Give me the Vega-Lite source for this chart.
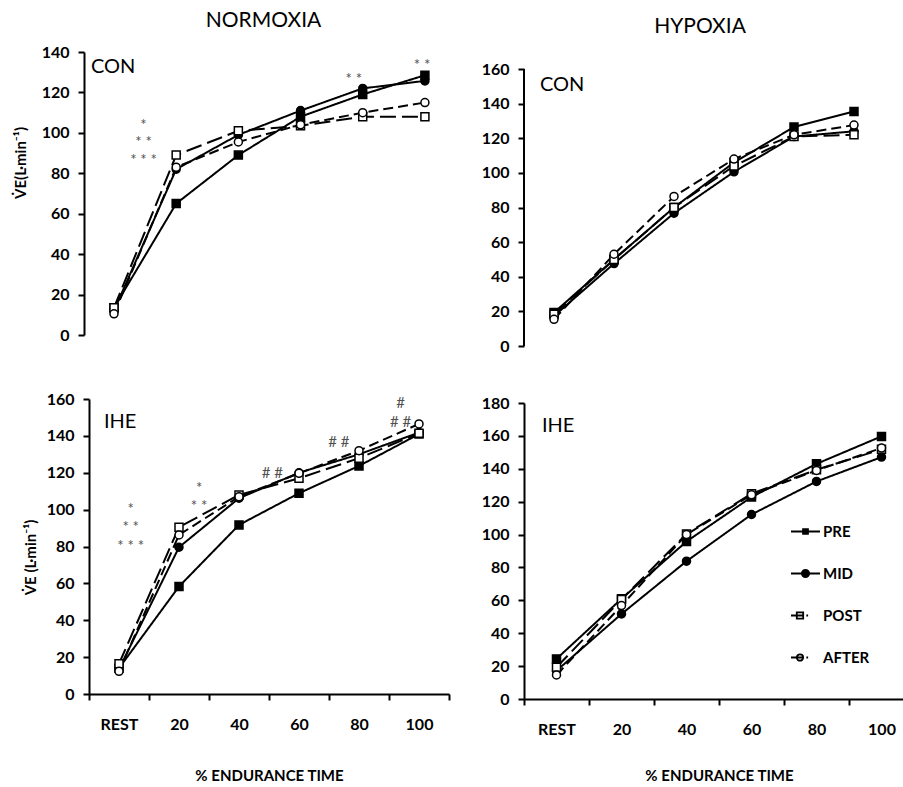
{
  "$schema": "https://vega.github.io/schema/vega-lite/v6.json",
  "padding": {"left": 14, "top": 10, "right": 0, "bottom": 0},
  "background": "white",
  "config": {
    "view": {"stroke": null},
    "font": "Lato",
    "axis": {"domainColor": "black", "domainWidth": 2, "tickColor": "black", "tickWidth": 2, "tickSize": 6, "labelFont": "Lato", "labelFontWeight": "bold", "labelFontSize": 16, "labelColor": "black", "labelPadding": 9, "grid": false, "titleFont": "Lato", "titleFontWeight": "bold", "titleFontSize": 15, "titleColor": "black"},
    "title": {"font": "Lato", "fontSize": 21, "fontWeight": "normal", "color": "black", "anchor": "middle", "frame": "group"}
  },
  "datasets": {
    "tl": [
      {"g": "PRE", "t": 0, "v": 13.5}, {"g": "PRE", "t": 20, "v": 65}, {"g": "PRE", "t": 40, "v": 89}, {"g": "PRE", "t": 60, "v": 108}, {"g": "PRE", "t": 80, "v": 119}, {"g": "PRE", "t": 100, "v": 128.5},
      {"g": "MID", "t": 0, "v": 12}, {"g": "MID", "t": 20, "v": 82}, {"g": "MID", "t": 40, "v": 99}, {"g": "MID", "t": 60, "v": 111}, {"g": "MID", "t": 80, "v": 122}, {"g": "MID", "t": 100, "v": 125.7},
      {"g": "POST", "t": 0, "v": 13.5}, {"g": "POST", "t": 20, "v": 89}, {"g": "POST", "t": 40, "v": 101}, {"g": "POST", "t": 60, "v": 103.5}, {"g": "POST", "t": 80, "v": 108}, {"g": "POST", "t": 100, "v": 108},
      {"g": "AFTER", "t": 0, "v": 10.5}, {"g": "AFTER", "t": 20, "v": 83}, {"g": "AFTER", "t": 40, "v": 95.5}, {"g": "AFTER", "t": 60, "v": 104}, {"g": "AFTER", "t": 80, "v": 110}, {"g": "AFTER", "t": 100, "v": 115}
    ],
    "tr": [
      {"g": "PRE", "t": 0, "v": 19.3}, {"g": "PRE", "t": 20, "v": 50}, {"g": "PRE", "t": 40, "v": 80}, {"g": "PRE", "t": 60, "v": 106}, {"g": "PRE", "t": 80, "v": 126.5}, {"g": "PRE", "t": 100, "v": 135.5},
      {"g": "MID", "t": 0, "v": 17.3}, {"g": "MID", "t": 20, "v": 47.6}, {"g": "MID", "t": 40, "v": 76.7}, {"g": "MID", "t": 60, "v": 100.6}, {"g": "MID", "t": 80, "v": 121}, {"g": "MID", "t": 100, "v": 124},
      {"g": "POST", "t": 0, "v": 18.3}, {"g": "POST", "t": 20, "v": 50}, {"g": "POST", "t": 40, "v": 80}, {"g": "POST", "t": 60, "v": 104}, {"g": "POST", "t": 80, "v": 121}, {"g": "POST", "t": 100, "v": 122},
      {"g": "AFTER", "t": 0, "v": 15.4}, {"g": "AFTER", "t": 20, "v": 53}, {"g": "AFTER", "t": 40, "v": 86.4}, {"g": "AFTER", "t": 60, "v": 108}, {"g": "AFTER", "t": 80, "v": 122}, {"g": "AFTER", "t": 100, "v": 127.6}
    ],
    "bl": [
      {"g": "PRE", "t": 0, "v": 14}, {"g": "PRE", "t": 20, "v": 58.3}, {"g": "PRE", "t": 40, "v": 91.7}, {"g": "PRE", "t": 60, "v": 108.9}, {"g": "PRE", "t": 80, "v": 123.7}, {"g": "PRE", "t": 100, "v": 141},
      {"g": "MID", "t": 0, "v": 13.5}, {"g": "MID", "t": 20, "v": 79.6}, {"g": "MID", "t": 40, "v": 106.2}, {"g": "MID", "t": 60, "v": 120}, {"g": "MID", "t": 80, "v": 130}, {"g": "MID", "t": 100, "v": 141.8},
      {"g": "POST", "t": 0, "v": 16.4}, {"g": "POST", "t": 20, "v": 90.5}, {"g": "POST", "t": 40, "v": 108}, {"g": "POST", "t": 60, "v": 117}, {"g": "POST", "t": 80, "v": 127.9}, {"g": "POST", "t": 100, "v": 141.4},
      {"g": "AFTER", "t": 0, "v": 12.3}, {"g": "AFTER", "t": 20, "v": 86.3}, {"g": "AFTER", "t": 40, "v": 107}, {"g": "AFTER", "t": 60, "v": 119.7}, {"g": "AFTER", "t": 80, "v": 132}, {"g": "AFTER", "t": 100, "v": 146.5}
    ],
    "br": [
      {"g": "PRE", "t": 0, "v": 24.4}, {"g": "PRE", "t": 20, "v": 60.9}, {"g": "PRE", "t": 40, "v": 95.8}, {"g": "PRE", "t": 60, "v": 122.8}, {"g": "PRE", "t": 80, "v": 143}, {"g": "PRE", "t": 100, "v": 159.7},
      {"g": "MID", "t": 0, "v": 17.2}, {"g": "MID", "t": 20, "v": 51.7}, {"g": "MID", "t": 40, "v": 83.8}, {"g": "MID", "t": 60, "v": 112.2}, {"g": "MID", "t": 80, "v": 132.3}, {"g": "MID", "t": 100, "v": 147.1},
      {"g": "POST", "t": 0, "v": 19.3}, {"g": "POST", "t": 20, "v": 60.5}, {"g": "POST", "t": 40, "v": 100.4}, {"g": "POST", "t": 60, "v": 124.8}, {"g": "POST", "t": 80, "v": 139.4}, {"g": "POST", "t": 100, "v": 151.8},
      {"g": "AFTER", "t": 0, "v": 14.6}, {"g": "AFTER", "t": 20, "v": 56.8}, {"g": "AFTER", "t": 40, "v": 100}, {"g": "AFTER", "t": 60, "v": 124.2}, {"g": "AFTER", "t": 80, "v": 139}, {"g": "AFTER", "t": 100, "v": 152.6}
    ],
    "tl_ann": [
      {"t": 9.5, "v": 103.9, "s": "*"}, {"t": 9.5, "v": 95.5, "s": "* *"}, {"t": 9.5, "v": 86.6, "s": "* * *"},
      {"t": 77.1, "v": 126.6, "s": "* *"}, {"t": 99.1, "v": 133.7, "s": "* *"}
    ],
    "bl_ann": [
      {"t": 3.9, "v": 100.5, "s": "*"}, {"t": 3.9, "v": 90.6, "s": "* *"}, {"t": 3.9, "v": 80.1, "s": "* * *"},
      {"t": 26.7, "v": 111.9, "s": "*"}, {"t": 26.7, "v": 102, "s": "* *"},
      {"t": 51.1, "v": 119.7, "s": "# #"}, {"t": 73.3, "v": 136.8, "s": "# #"},
      {"t": 93.9, "v": 157.6, "s": "#"}, {"t": 93.9, "v": 147.7, "s": "# #"}
    ]
  },
  "spacing": 2,
  "hconcat": [
    {
      "spacing": 48,
      "vconcat": [
        {
          "width": 367, "height": 283,
          "title": {"text": "NORMOXIA", "offset": 13, "dx": -9},
          "encoding": {
            "x": {"field": "t", "type": "quantitative", "scale": {"domain": [-8.04, 110], "nice": false, "zero": false}, "axis": null},
            "y": {"field": "v", "type": "quantitative", "scale": {"domain": [0, 140], "nice": false}, "axis": {"offset": 5, "values": [0, 20, 40, 60, 80, 100, 120, 140], "title": null}}
          },
          "layer": [
            {"data": {"name": "tl"}, "mark": {"type": "line", "stroke": "black", "strokeWidth": 2},
             "encoding": {"strokeDash": {"field": "g", "type": "nominal", "scale": {"domain": ["PRE", "MID", "POST", "AFTER"], "range": [[1, 0], [1, 0], [16, 6], [10, 5]]}, "legend": null}}},
            {"data": {"name": "tl"}, "mark": {"type": "point", "filled": true, "stroke": "black", "strokeWidth": 1.5, "size": 64, "opacity": 1},
             "encoding": {
               "shape": {"field": "g", "type": "nominal", "scale": {"domain": ["PRE", "MID", "POST", "AFTER"], "range": ["square", "circle", "square", "circle"]}, "legend": null},
               "fill": {"field": "g", "type": "nominal", "scale": {"domain": ["PRE", "MID", "POST", "AFTER"], "range": ["black", "black", "white", "white"]}, "legend": null}}},
            {"data": {"name": "tl_ann"}, "mark": {"type": "text", "font": "Lato", "fontSize": 15, "color": "#505050", "baseline": "middle"},
             "encoding": {"text": {"field": "s"}}},
            {"data": {"values": [{"t": -7.4, "v": 129.6, "s": "CON"}]}, "mark": {"type": "text", "font": "Lato", "fontSize": 20, "color": "black", "align": "left", "baseline": "alphabetic"},
             "encoding": {"text": {"field": "s"}}},
            {"data": {"values": [{"t": -29.9, "v": 85.1, "s": "V̇E(L·min⁻¹)"}]}, "mark": {"type": "text", "font": "Lato", "fontSize": 15, "fontWeight": "bold", "color": "black", "angle": 270, "align": "center", "baseline": "middle"},
             "encoding": {"text": {"field": "s"}}}
          ]
        },
        {
          "width": 360, "height": 295,
          "encoding": {
            "x": {"field": "t", "type": "quantitative", "scale": {"domain": [-10, 110], "nice": false, "zero": false},
                  "axis": {"values": [-10, 10, 30, 50, 70, 90, 110], "labelExpr": "datum.value < 0 ? 'REST' : datum.value > 100 ? '' : toString(datum.value + 10)", "labelOffset": 30, "labelFlush": false, "labelOverlap": false, "labelPadding": 16, "title": "% ENDURANCE TIME", "titlePadding": 36}},
            "y": {"field": "v", "type": "quantitative", "scale": {"domain": [0, 160], "nice": false}, "axis": {"values": [0, 20, 40, 60, 80, 100, 120, 140, 160], "title": "V̇E (L·min⁻¹)", "titlePadding": 8, "titleAlign": "center", "titleY": 158}}
          },
          "layer": [
            {"data": {"name": "bl"}, "mark": {"type": "line", "stroke": "black", "strokeWidth": 2},
             "encoding": {"strokeDash": {"field": "g", "type": "nominal", "scale": {"domain": ["PRE", "MID", "POST", "AFTER"], "range": [[1, 0], [1, 0], [16, 6], [10, 5]]}, "legend": null}}},
            {"data": {"name": "bl"}, "mark": {"type": "point", "filled": true, "stroke": "black", "strokeWidth": 1.5, "size": 64, "opacity": 1},
             "encoding": {
               "shape": {"field": "g", "type": "nominal", "scale": {"domain": ["PRE", "MID", "POST", "AFTER"], "range": ["square", "circle", "square", "circle"]}, "legend": null},
               "fill": {"field": "g", "type": "nominal", "scale": {"domain": ["PRE", "MID", "POST", "AFTER"], "range": ["black", "black", "white", "white"]}, "legend": null}}},
            {"data": {"name": "bl_ann"}, "mark": {"type": "text", "font": "Lato", "fontSize": 15, "color": "#505050", "baseline": "middle"},
             "encoding": {"text": {"field": "s"}}},
            {"data": {"values": [{"t": -5, "v": 144.3, "s": "IHE"}]}, "mark": {"type": "text", "font": "Lato", "fontSize": 20, "color": "black", "align": "left", "baseline": "alphabetic"},
             "encoding": {"text": {"field": "s"}}}
          ]
        }
      ]
    },
    {
      "spacing": 41,
      "vconcat": [
        {
          "width": 360, "height": 294,
          "title": {"text": "HYPOXIA", "offset": 15, "dx": -4},
          "encoding": {
            "x": {"field": "t", "type": "quantitative", "scale": {"domain": [-10, 110], "nice": false, "zero": false}, "axis": null},
            "y": {"field": "v", "type": "quantitative", "scale": {"domain": [0, 169.82], "nice": false}, "axis": {"values": [0, 20, 40, 60, 80, 100, 120, 140, 160], "title": null, "domain": false}}
          },
          "layer": [
            {"data": {"values": [{"t": -10, "v": 0, "v2": 160}]}, "mark": {"type": "rule", "stroke": "black", "strokeWidth": 2},
             "encoding": {"y2": {"field": "v2"}}},
            {"data": {"name": "tr"}, "mark": {"type": "line", "stroke": "black", "strokeWidth": 2},
             "encoding": {"strokeDash": {"field": "g", "type": "nominal", "scale": {"domain": ["PRE", "MID", "POST", "AFTER"], "range": [[1, 0], [1, 0], [16, 6], [10, 5]]}, "legend": null}}},
            {"data": {"name": "tr"}, "mark": {"type": "point", "filled": true, "stroke": "black", "strokeWidth": 1.5, "size": 64, "opacity": 1},
             "encoding": {
               "shape": {"field": "g", "type": "nominal", "scale": {"domain": ["PRE", "MID", "POST", "AFTER"], "range": ["square", "circle", "square", "circle"]}, "legend": null},
               "fill": {"field": "g", "type": "nominal", "scale": {"domain": ["PRE", "MID", "POST", "AFTER"], "range": ["black", "black", "white", "white"]}, "legend": null}}},
            {"data": {"values": [{"t": -4.7, "v": 147.3, "s": "CON"}]}, "mark": {"type": "text", "font": "Lato", "fontSize": 20, "color": "black", "align": "left", "baseline": "alphabetic"},
             "encoding": {"text": {"field": "s"}}}
          ]
        },
        {
          "width": 390, "height": 296,
          "resolve": {"scale": {"shape": "independent", "fill": "independent"}},
          "encoding": {
            "x": {"field": "t", "type": "quantitative", "scale": {"domain": [-10, 110], "nice": false, "zero": false},
                  "axis": {"values": [-10, 10, 30, 50, 70, 90, 110], "labelExpr": "datum.value < 0 ? 'REST' : datum.value > 100 ? '' : toString(datum.value + 10)", "labelOffset": 32.5, "labelFlush": false, "labelOverlap": false, "labelPadding": 16, "title": "% ENDURANCE TIME", "titlePadding": 31}},
            "y": {"field": "v", "type": "quantitative", "scale": {"domain": [0, 180], "nice": false}, "axis": {"values": [0, 20, 40, 60, 80, 100, 120, 140, 160, 180], "title": null}}
          },
          "layer": [
            {"data": {"name": "br"}, "mark": {"type": "line", "stroke": "black", "strokeWidth": 2},
             "encoding": {"strokeDash": {"field": "g", "type": "nominal", "scale": {"domain": ["PRE", "MID", "POST", "AFTER"], "range": [[1, 0], [1, 0], [16, 6], [10, 5]]}, "legend": null}}},
            {"data": {"name": "br"}, "mark": {"type": "point", "filled": true, "stroke": "black", "strokeWidth": 1.5, "size": 64, "opacity": 1},
             "encoding": {
               "shape": {"field": "g", "type": "nominal", "scale": {"domain": ["PRE", "MID", "POST", "AFTER"], "range": ["square", "circle", "square", "circle"]}, "legend": null},
               "fill": {"field": "g", "type": "nominal", "scale": {"domain": ["PRE", "MID", "POST", "AFTER"], "range": ["black", "black", "white", "white"]}, "legend": null}}},
            {"data": {"values": [{"t": -4.5, "v": 162.4, "s": "IHE"}]}, "mark": {"type": "text", "font": "Lato", "fontSize": 20, "color": "black", "align": "left", "baseline": "alphabetic"},
             "encoding": {"text": {"field": "s"}}},
            {"data": {"name": "br"}, "transform": [{"filter": "false"}],
             "mark": {"type": "point", "filled": true, "stroke": "black", "strokeWidth": 1.8, "opacity": 1},
             "encoding": {
               "shape": {"field": "g", "type": "nominal",
                         "scale": {"domain": ["PRE", "MID", "POST", "AFTER"], "range": ["M-1,0H1M-0.17,-0.17H0.17V0.17H-0.17Z", "M-1,0H1M-0.25,0A0.25,0.25,0,1,1,0.25,0A0.25,0.25,0,1,1,-0.25,0Z", "M-1,0H-0.16M-0.6,-0.22H-0.16V0.22H-0.6ZM0.06,0H0.18", "M-1,0H-0.16M-0.6,0A0.22,0.22,0,1,1,-0.16,0A0.22,0.22,0,1,1,-0.6,0ZM0.06,0H0.18"]},
                         "legend": {"orient": "none", "legendX": 266, "legendY": 113, "title": null, "symbolSize": 841, "symbolStrokeWidth": 1.8, "symbolStrokeColor": "black", "symbolOpacity": 1, "labelFont": "Lato", "labelFontSize": 15, "labelFontWeight": "bold", "labelColor": "black", "rowPadding": 18, "labelOffset": 2, "padding": 0,
                                    "encode": {"symbols": {"update": {"stroke": {"value": "black"}, "strokeWidth": {"value": 1.8}, "opacity": {"value": 1}}}}}},
               "fill": {"field": "g", "type": "nominal",
                        "scale": {"domain": ["PRE", "MID", "POST", "AFTER"], "range": ["black", "black", "white", "white"]},
                        "legend": {"orient": "none", "legendX": 266, "legendY": 113, "title": null, "symbolSize": 841, "symbolStrokeWidth": 1.8, "symbolStrokeColor": "black", "symbolOpacity": 1, "labelFont": "Lato", "labelFontSize": 15, "labelFontWeight": "bold", "labelColor": "black", "rowPadding": 18, "labelOffset": 2, "padding": 0,
                                   "encode": {"symbols": {"update": {"stroke": {"value": "black"}, "strokeWidth": {"value": 1.8}, "opacity": {"value": 1}}}}}}
             }}
          ]
        }
      ]
    }
  ]
}
